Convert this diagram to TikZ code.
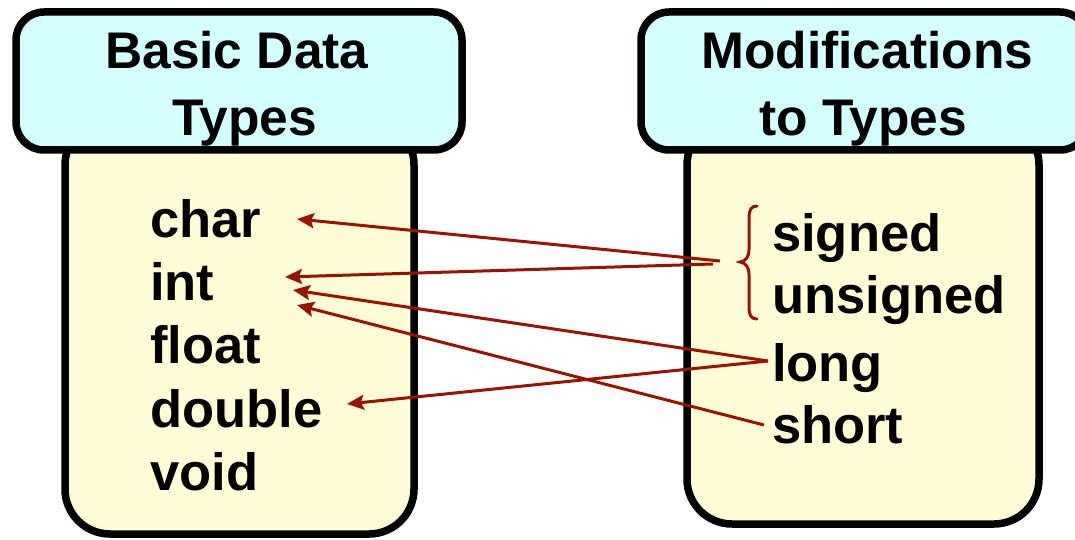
\documentclass[tikz,border=0pt]{standalone}
\usepackage{fontspec}
\setmainfont{Liberation Sans}
\usetikzlibrary{arrows.meta}
\definecolor{hdrfill}{RGB}{212,255,255}
\definecolor{boxfill}{RGB}{255,253,214}
\definecolor{arrred}{RGB}{153,20,0}
\begin{document}
\begin{tikzpicture}[x=1pt,y=-1pt,
  hdrbox/.style={draw=black, line width=7.5pt, fill=hdrfill, rounded corners=28pt, rectangle, inner sep=0pt},
  listbox/.style={draw=black, line width=7.5pt, fill=boxfill, rounded corners=45pt},
  label/.style={font=\fontsize{51.5}{60}\selectfont\bfseries, inner sep=0pt, anchor=base west},
  itemlabel/.style={label, font=\fontsize{52.5}{60}\selectfont\bfseries},
  arr/.style={draw=arrred, line width=3pt, -{Stealth[length=17pt,width=15pt,inset=3pt]}},
  bracestyle/.style={draw=arrred, line width=3pt, line cap=round}]
\path[use as bounding box, clip] (0,0) rectangle (1075,540);
\fill[white] (0,0) rectangle (1075,540);

% list boxes
\draw[listbox] (65,120) rectangle (414,534);
\draw[listbox] (687,120) rectangle (1039,524);

% header boxes
\node[hdrbox, minimum width=446pt, minimum height=138pt] (hdrL) at (239,81) {};
\node[hdrbox, minimum width=447pt, minimum height=138pt] (hdrR) at (864.5,81) {};

% header texts
\node[label] (hl1) at (105,69) {Basic Data};
\node[label] (hl2) at (172,136) {Types};
\node[label] (hr1) at (701,69) {Modifications};
\node[label] (hr2) at (759,136) {to Types};

% left list
\node[itemlabel] (char) at (150,237) {char};
\node[itemlabel] (int) at (150,300) {int};
\node[itemlabel] (float) at (150,363) {float};
\node[itemlabel] (double) at (150,427) {double};
\node[itemlabel] (void) at (150,490) {void};

% right list
\node[itemlabel] (signed) at (772,251) {signed};
\node[itemlabel] (unsigned) at (772,313) {unsigned};
\node[itemlabel] (long) at (772,381) {long};
\node[itemlabel] (short) at (772,443) {short};

% brace
\draw[bracestyle] (757,206) .. controls (751,206) and (749,210) .. (749,218)
  -- (749,249) .. controls (749,257) and (746,261) .. (740,262)
  .. controls (746,263) and (749,267) .. (749,275)
  -- (749,307) .. controls (749,315) and (751,319) .. (757,319);

% arrow end points
\coordinate (braceA) at (720,261);
\coordinate (braceB) at (713,264);
\coordinate (longT) at (768,361);
\coordinate (shortT) at (764,425);
\coordinate (charTip) at (297,219);
\coordinate (intTipA) at (285,277);
\coordinate (intTipB) at (293,290);
\coordinate (intTipC) at (297,305);
\coordinate (doubleTip) at (347,404);

\draw[arr] (braceA) -- (charTip);
\draw[arr] (braceB) -- (intTipA);
\draw[arr] (longT) -- (intTipB);
\draw[arr] (longT) -- (doubleTip);
\draw[arr] (shortT) -- (intTipC);
\end{tikzpicture}
\end{document}
